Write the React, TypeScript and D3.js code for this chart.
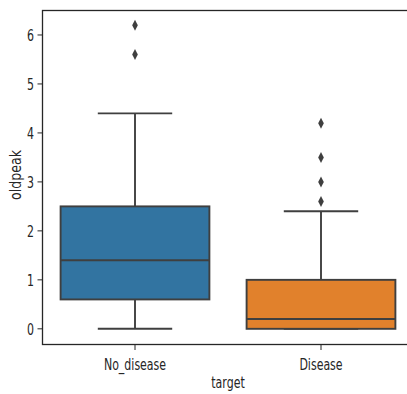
import { useRef, useEffect } from "react";
import * as d3 from "d3";

// box statistics
const categories = ["No_disease", "Disease"];
const q1 = [0.6, 0.0];
const medians = [1.4, 0.2];
const q3 = [2.5, 1.0];
const whiskerLow = [0.0, 0.0];
const whiskerHigh = [4.4, 2.4];
const outliers = [
  [5.6, 6.2],
  [2.6, 3.0, 3.5, 4.2],
];
const colors = ["#3274a1", "#e1812c"];
const yTicks = [0, 1, 2, 3, 4, 5, 6];

const width = 407;
const height = 394;
const margin = { top: 10, right: -7, bottom: 50, left: 42 };

function App() {
  const chartRef = useRef<SVGSVGElement | null>(null);

  useEffect(() => {
    const svg = d3.select(chartRef.current);
    svg.selectAll("*").remove();

    const lineColor = "#3f3f3f";
    const textColor = "#262626";
    const font = "'DejaVu Sans', sans-serif";

    const x = d3
      .scaleBand()
      .domain(categories)
      .range([margin.left, width - margin.right])
      .padding(0);

    const y = d3
      .scaleLinear()
      .domain([-0.31, 6.51])
      .range([height - margin.bottom, margin.top]);

    const boxW = x.bandwidth() * 0.8;
    const data = categories.map((c, i) => ({
      cat: c,
      q1: q1[i],
      med: medians[i],
      q3: q3[i],
      lo: whiskerLow[i],
      hi: whiskerHigh[i],
      out: outliers[i],
      color: colors[i],
    }));

    const g = svg.append("g");

    data.forEach((d) => {
      const cx = x(d.cat)! + x.bandwidth() / 2;
      // whiskers
      g.append("line")
        .attr("x1", cx).attr("x2", cx)
        .attr("y1", y(d.q3)).attr("y2", y(d.hi))
        .attr("stroke", lineColor).attr("stroke-width", 1.9);
      g.append("line")
        .attr("x1", cx).attr("x2", cx)
        .attr("y1", y(d.q1)).attr("y2", y(d.lo))
        .attr("stroke", lineColor).attr("stroke-width", 1.9);
      // caps
      [d.lo, d.hi].forEach((v) => {
        g.append("line")
          .attr("x1", cx - boxW / 4).attr("x2", cx + boxW / 4)
          .attr("y1", y(v)).attr("y2", y(v))
          .attr("stroke", lineColor).attr("stroke-width", 1.9);
      });
      // box
      g.append("rect")
        .attr("x", cx - boxW / 2)
        .attr("y", y(d.q3))
        .attr("width", boxW)
        .attr("height", y(d.q1) - y(d.q3))
        .attr("fill", d.color)
        .attr("stroke", lineColor)
        .attr("stroke-width", 1.9);
      // median
      g.append("line")
        .attr("x1", cx - boxW / 2).attr("x2", cx + boxW / 2)
        .attr("y1", y(d.med)).attr("y2", y(d.med))
        .attr("stroke", lineColor).attr("stroke-width", 1.9);
      // fliers (thin diamonds)
      g.selectAll(null)
        .data(d.out)
        .join("path")
        .attr("d", (v) => {
          const py = y(v);
          return `M${cx},${py - 5.5}L${cx + 2.8},${py}L${cx},${py + 5.5}L${cx - 2.8},${py}Z`;
        })
        .attr("fill", lineColor);
    });

    // spines
    const x0 = margin.left;
    const x1 = width - margin.right;
    const y0 = height - margin.bottom;
    const yTop = margin.top;
    svg.append("rect")
      .attr("x", x0 + 0.5).attr("y", yTop + 0.5)
      .attr("width", x1 - x0).attr("height", y0 - yTop)
      .attr("fill", "none")
      .attr("stroke", textColor)
      .attr("stroke-width", 1.3);

    // y ticks
    const yAxis = svg.append("g");
    yTicks.forEach((t) => {
      yAxis.append("line")
        .attr("x1", x0).attr("x2", x0 - 4.5)
        .attr("y1", y(t)).attr("y2", y(t))
        .attr("stroke", textColor).attr("stroke-width", 1);
      yAxis.append("text")
        .attr("transform", `translate(${x0 - 8},${y(t)}) scale(1,1.45)`)
        .attr("text-anchor", "end")
        .attr("dominant-baseline", "central")
        .attr("font-family", font)
        .attr("font-size", 11)
        .attr("fill", textColor)
        .text(d3.format("d")(t));
    });

    // x ticks
    const xAxis = svg.append("g");
    categories.forEach((c) => {
      const cx = x(c)! + x.bandwidth() / 2;
      xAxis.append("line")
        .attr("x1", cx).attr("x2", cx)
        .attr("y1", y0 + 0.5).attr("y2", y0 + 6)
        .attr("stroke", textColor).attr("stroke-width", 1);
      xAxis.append("text")
        .attr("transform", `translate(${cx},${y0 + 26}) scale(1,1.45)`)
        .attr("text-anchor", "middle")
        .attr("font-family", font)
        .attr("font-size", 11)
        .attr("fill", textColor)
        .text(c);
    });

    // axis labels
    svg.append("text")
      .attr("transform", `translate(${(x0 + x1) / 2},${y0 + 44}) scale(1,1.45)`)
      .attr("text-anchor", "middle")
      .attr("font-family", font)
      .attr("font-size", 11)
      .attr("fill", textColor)
      .text("target");

    svg.append("text")
      .attr("transform", `translate(21,${(yTop + y0) / 2 - 2}) rotate(-90) scale(1.05,1.3)`)
      .attr("text-anchor", "middle")
      .attr("font-family", font)
      .attr("font-size", 12)
      .attr("fill", textColor)
      .text("oldpeak");
  }, []);

  return (
    <svg
      ref={chartRef}
      width={width}
      height={height}
      style={{ position: "fixed", left: 0, top: 0, background: "#fff" }}
    />
  );
}

export default App;
